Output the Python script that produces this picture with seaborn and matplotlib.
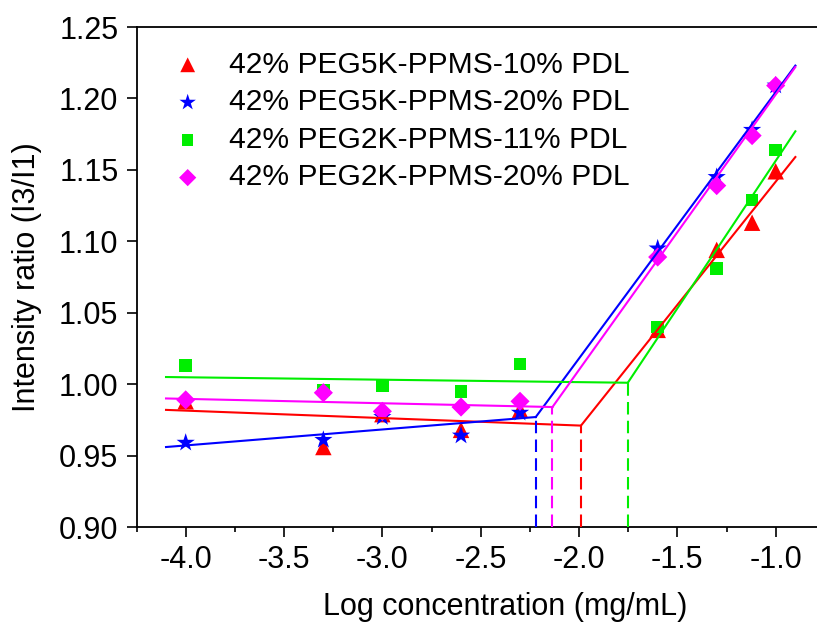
import matplotlib
matplotlib.use("Agg")
import matplotlib.pyplot as plt
import matplotlib.ticker as mtick
import seaborn as sns

# log concentration (mg/mL) used for every series
log_conc = [-4.0, -3.3, -3.0, -2.6, -2.3, -1.6, -1.3, -1.12, -1.0]

labels = [
    "42% PEG5K-PPMS-10% PDL",
    "42% PEG5K-PPMS-20% PDL",
    "42% PEG2K-PPMS-11% PDL",
    "42% PEG2K-PPMS-20% PDL",
]

ratio_5k_10 = [0.988, 0.956, 0.979, 0.968, 0.982, 1.038, 1.094, 1.113, 1.149]
ratio_5k_20 = [0.959, 0.961, 0.977, 0.964, 0.980, 1.095, 1.145, 1.178, 1.209]
ratio_2k_11 = [1.013, 0.996, 0.999, 0.995, 1.014, 1.040, 1.081, 1.129, 1.164]
ratio_2k_20 = [0.989, 0.994, 0.981, 0.984, 0.988, 1.089, 1.139, 1.174, 1.209]

# two-segment fits: value at x=-4.1, break point (x, y), value at x=-0.9
fit_x_start = -4.1
fit_x_end = -0.9
fit_y_start = [0.982, 0.956, 1.005, 0.990]
break_x = [-1.99, -2.22, -1.752, -2.135]
break_y = [0.971, 0.977, 1.001, 0.984]
fit_y_end = [1.159, 1.223, 1.177, 1.222]

x_ticks = [-4.0, -3.5, -3.0, -2.5, -2.0, -1.5, -1.0]

series = [ratio_5k_10, ratio_5k_20, ratio_2k_11, ratio_2k_20]
colors = ["#ff0000", "#0000ff", "#00ee00", "#ff00ff"]
markers = ["^", "*", "s", "D"]
sizes = [140, 190, 80, 95]

plt.rcParams["font.family"] = ["Liberation Sans", "DejaVu Sans"]

fig = plt.figure(figsize=(8.17, 6.24), dpi=100)
ax = fig.add_axes([0.1671, 0.1554, 0.9027, 0.8013])

for vals, col, mk, sz, lab in zip(series, colors, markers, sizes, labels):
    sns.scatterplot(x=log_conc, y=vals, marker=mk, color=col, s=sz,
                    edgecolor="none", label=lab, ax=ax, zorder=2)

# fitted lines and the dashed drops at each break point
for i, col in enumerate(colors):
    ax.plot([fit_x_start, break_x[i]], [fit_y_start[i], break_y[i]],
            color=col, lw=1.5, zorder=3)
    ax.plot([break_x[i], fit_x_end], [break_y[i], fit_y_end[i]],
            color=col, lw=1.5, zorder=3)
    ax.plot([break_x[i], break_x[i]], [0.90, break_y[i]],
            color=col, lw=1.5, dashes=(6, 3), zorder=3)

ax.set_xlim(-4.25, -0.5)
ax.set_ylim(0.90, 1.25)
ax.xaxis.set_major_locator(mtick.FixedLocator(x_ticks))
ax.xaxis.set_minor_locator(mtick.FixedLocator([-4.25, -3.75, -3.25, -2.75,
                                               -2.25, -1.75, -1.25, -0.75]))
ax.yaxis.set_major_locator(mtick.MultipleLocator(0.05))
ax.xaxis.set_major_formatter(mtick.FormatStrFormatter("%.1f"))
ax.yaxis.set_major_formatter(mtick.FormatStrFormatter("%.2f"))

ax.tick_params(axis="both", which="major", direction="out", length=7,
               width=1.2, labelsize=22, pad=6)
ax.tick_params(axis="x", which="minor", direction="out", length=3.5, width=1.2)
for sp in ax.spines.values():
    sp.set_linewidth(1.3)

ax.set_xlabel("Log concentration (mg/mL)", fontsize=22, labelpad=12)
ax.set_ylabel("Intensity ratio (I3/I1)", fontsize=22, labelpad=12)

handles, labs = ax.get_legend_handles_labels()
ax.legend(handles, labs, loc="upper left", bbox_to_anchor=(0.193, 0.938),
          bbox_transform=fig.transFigure, frameon=False, fontsize=21.6,
          handletextpad=0.77, labelspacing=0.32, handlelength=1.2,
          markerscale=0.9, borderaxespad=0)

fig.savefig("out.png", dpi=100)
